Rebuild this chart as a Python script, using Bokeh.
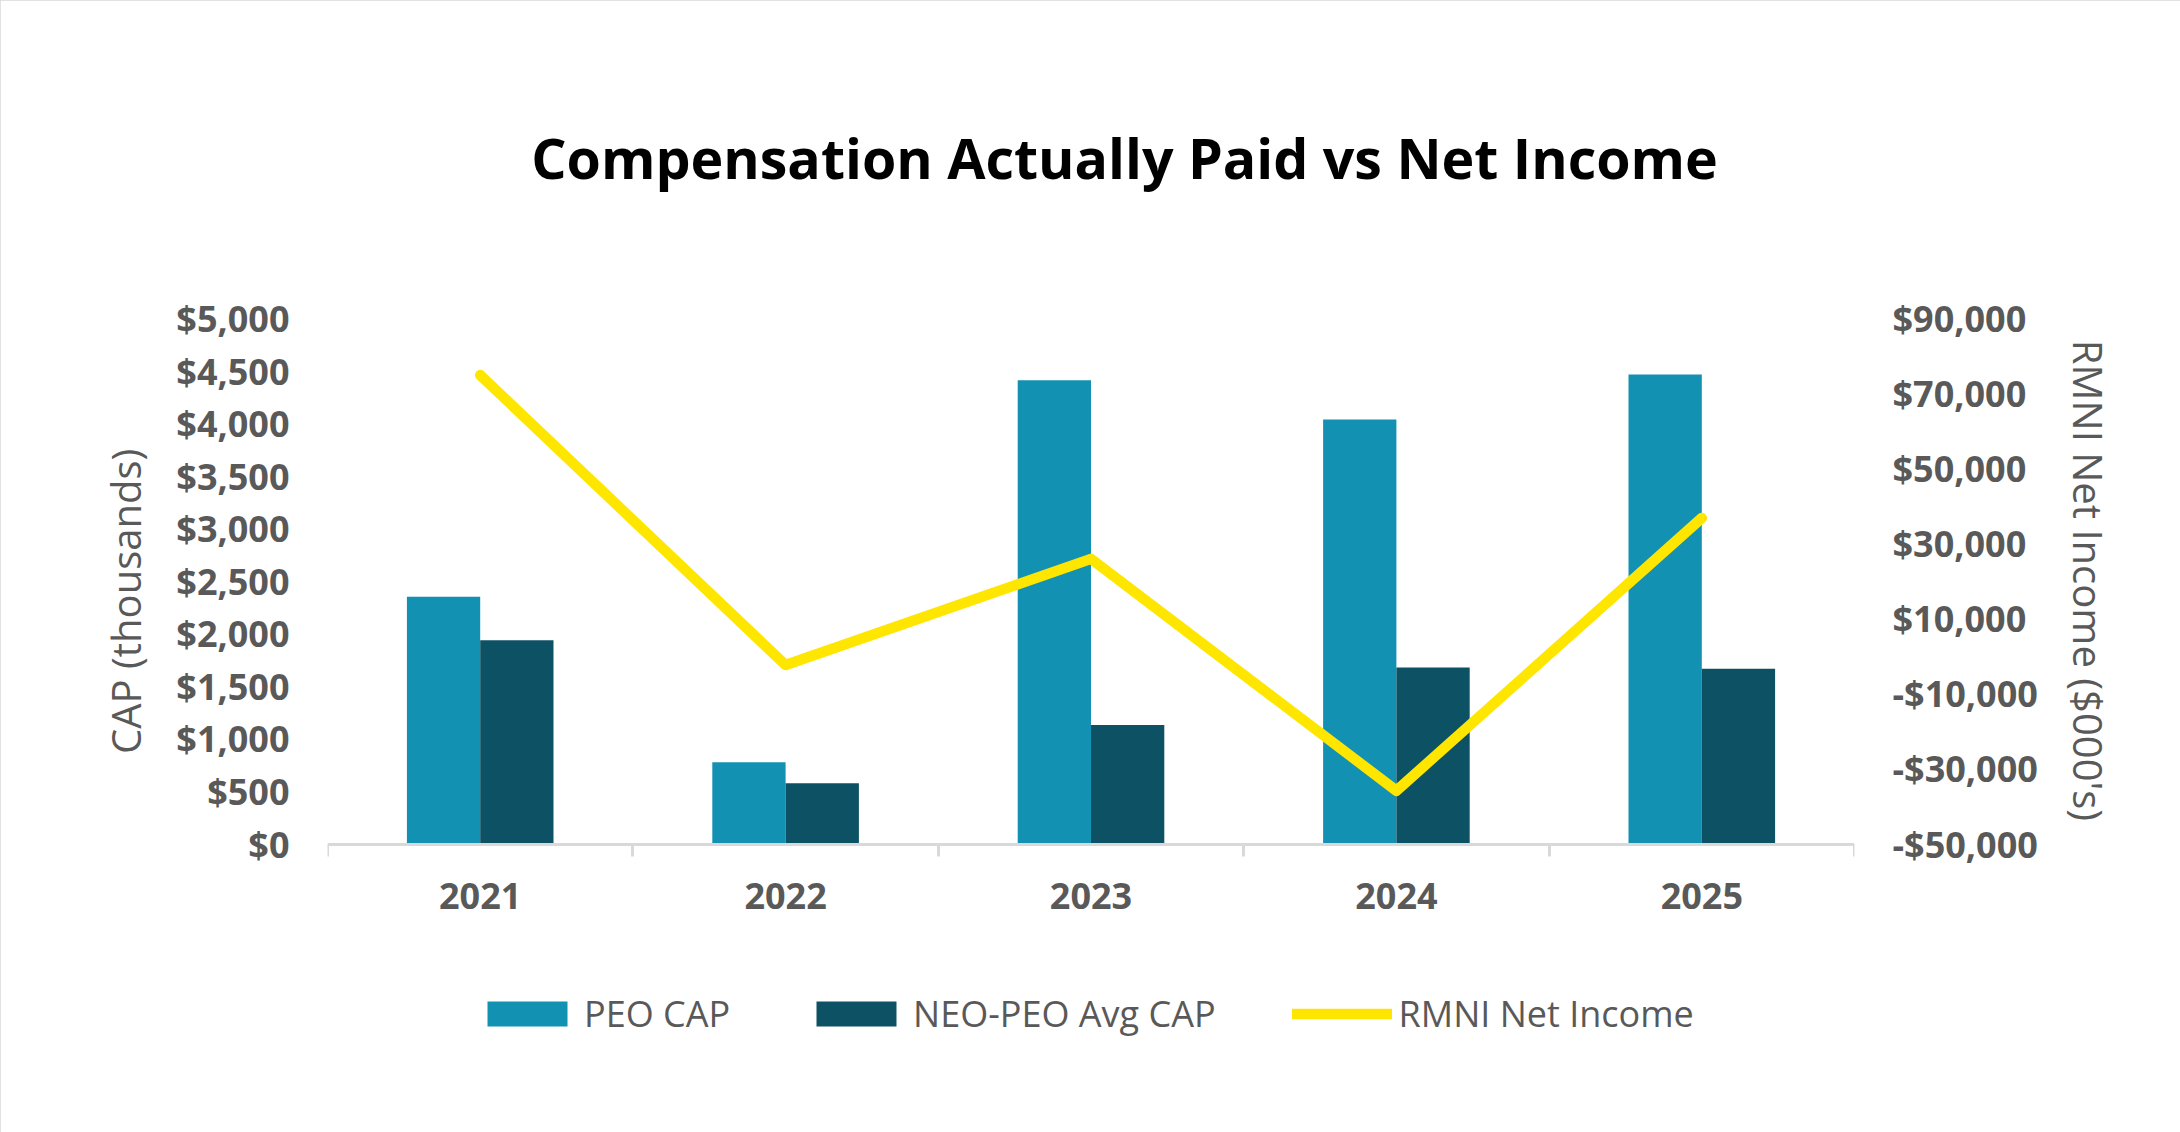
from bokeh.plotting import figure
from bokeh.models import (Range1d, LinearAxis, FixedTicker, NumeralTickFormatter,
                          ColumnDataSource, Legend, LegendItem, Label)
from bokeh.transform import dodge
from bokeh.embed import file_html
from bokeh.resources import INLINE

# ---- data -------------------------------------------------------------
years = ["2021", "2022", "2023", "2024", "2025"]
peo_cap = [2355, 778, 4415, 4042, 4470]            # $ thousands
neo_avg_cap = [1940, 578, 1132, 1680, 1668]        # $ thousands
net_income = [75000, -2300, 26000, -35800, 36900]  # $000's

cap_ticks = [0, 500, 1000, 1500, 2000, 2500, 3000, 3500, 4000, 4500, 5000]
ni_ticks = [-50000, -30000, -10000, 10000, 30000, 50000, 70000, 90000]
ni_labels = ["-$50,000", "-$30,000", "-$10,000", "$10,000", "$30,000",
             "$50,000", "$70,000", "$90,000"]

# ---- styling ----------------------------------------------------------
FONT = "Open Sans"
GREY_TXT = "#595959"
GRID = "#D9D9D9"
C_PEO = "#1391B2"
C_NEO = "#0D5264"
C_NI = "#FFE600"

# ---- geometry (canvas pixels) -----------------------------------------
W, H = 2180, 1132
LEFT, RIGHT = 327, 1854          # plot frame left / right edge
FRAME_TOP, FRAME_BOTTOM = 118, 1042
AXIS_BOTTOM, AXIS_TOP = 843.5, 318.3   # rows of the lowest / highest value tick


def padded_range(lo, hi):
    """Extend [lo, hi] so it spans the whole frame while lo/hi sit on AXIS rows."""
    per_px = (hi - lo) / (AXIS_BOTTOM - AXIS_TOP)
    return Range1d(lo - (FRAME_BOTTOM - AXIS_BOTTOM) * per_px,
                   hi + (AXIS_TOP - FRAME_TOP) * per_px)


centers = [i + 0.5 for i in range(len(years))]
src = ColumnDataSource(dict(x=centers, year=years, peo=peo_cap,
                            neo=neo_avg_cap, ni=net_income))

p = figure(width=W, height=H, output_backend="svg", toolbar_location=None,
           x_range=Range1d(0, len(years)),
           y_range=padded_range(cap_ticks[0], cap_ticks[-1]),
           min_border_left=LEFT, min_border_right=W - RIGHT,
           min_border_top=FRAME_TOP, min_border_bottom=H - FRAME_BOTTOM,
           x_axis_type=None, y_axis_type=None)
p.extra_y_ranges = {"ni": padded_range(ni_ticks[0], ni_ticks[-1])}
p.outline_line_color = None
p.background_fill_color = "white"
p.border_fill_color = "white"
p.styles = {"outline": f"3px solid {GRID}", "outline-offset": "-3px"}

# ---- axes -------------------------------------------------------------
xaxis = LinearAxis(ticker=FixedTicker(ticks=centers, minor_ticks=list(range(len(years) + 1))),
                   major_label_overrides={c: y for c, y in zip(centers, years)},
                   fixed_location=cap_ticks[0])
xaxis.axis_line_color = GRID
xaxis.axis_line_width = 3
xaxis.major_tick_out = 0
xaxis.major_tick_in = 0
xaxis.minor_tick_out = 12
xaxis.minor_tick_in = 0
xaxis.minor_tick_line_color = GRID
xaxis.minor_tick_line_width = 3
xaxis.major_label_text_font = FONT
xaxis.major_label_text_font_style = "bold"
xaxis.major_label_text_font_size = "36px"
xaxis.major_label_text_color = GREY_TXT
xaxis.major_label_standoff = 27
p.add_layout(xaxis, "below")

# trailing no-break spaces nudge the rotated title toward the lower part of the axis
yaxis = LinearAxis(ticker=FixedTicker(ticks=cap_ticks),
                   formatter=NumeralTickFormatter(format="$0,0"),
                   axis_label="CAP (thousands)" + "\u00a0" * 4)
p.add_layout(yaxis, "left")

ni_axis = LinearAxis(y_range_name="ni", ticker=FixedTicker(ticks=ni_ticks),
                     major_label_overrides={t: l for t, l in zip(ni_ticks, ni_labels)},
                     axis_label="RMNI Net Income ($000's)")
p.add_layout(ni_axis, "right")

for ax in (yaxis, ni_axis):
    ax.axis_line_color = None
    ax.major_tick_out = 0
    ax.major_tick_in = 0
    ax.minor_tick_out = 0
    ax.minor_tick_in = 0
    ax.major_label_text_font = FONT
    ax.major_label_text_font_style = "bold"
    ax.major_label_text_font_size = "36px"
    ax.major_label_text_color = GREY_TXT
    ax.major_label_standoff = 38
    ax.axis_label_text_font = FONT
    ax.axis_label_text_font_style = "normal"
    ax.axis_label_text_font_size = "40px"
    ax.axis_label_text_color = GREY_TXT
    ax.axis_label_standoff = 20

p.ygrid.ticker = FixedTicker(ticks=cap_ticks)
p.ygrid.grid_line_color = GRID
p.ygrid.grid_line_width = 2.5
p.xgrid.visible = False

# ---- glyphs -----------------------------------------------------------
bw = 0.24
r_peo = p.vbar(x=dodge("x", -bw / 2, range=p.x_range), top="peo", bottom=cap_ticks[0],
               width=bw, source=src, fill_color=C_PEO, line_color=None)
r_neo = p.vbar(x=dodge("x", bw / 2, range=p.x_range), top="neo", bottom=cap_ticks[0],
               width=bw, source=src, fill_color=C_NEO, line_color=None)
r_ni = p.line(x="x", y="ni", source=src, y_range_name="ni", line_color=C_NI,
              line_width=10.5, line_cap="round", line_join="round")

# ---- legend -----------------------------------------------------------
legend = Legend(items=[LegendItem(label="PEO CAP", renderers=[r_peo]),
                       LegendItem(label="NEO-PEO Avg CAP", renderers=[r_neo]),
                       LegendItem(label="RMNI Net Income", renderers=[r_ni])],
                orientation="horizontal", location=(477 - LEFT, 4),
                glyph_width=100, glyph_height=31, label_standoff=7, spacing=76,
                padding=0, margin=0, border_line_color=None,
                background_fill_alpha=0,
                label_text_font=FONT, label_text_font_size="36px",
                label_text_color=GREY_TXT)
p.add_layout(legend)

# ---- title ------------------------------------------------------------
title = Label(x=1124 - LEFT, y=FRAME_BOTTOM - 157, x_units="screen", y_units="screen",
              text="Compensation Actually Paid vs Net Income",
              text_align="center", text_baseline="alphabetic",
              text_font=FONT, text_font_style="bold", text_font_size="55.5px",
              text_color="black")
p.add_layout(title)

open("out.html", "w").write(file_html(p, INLINE))
